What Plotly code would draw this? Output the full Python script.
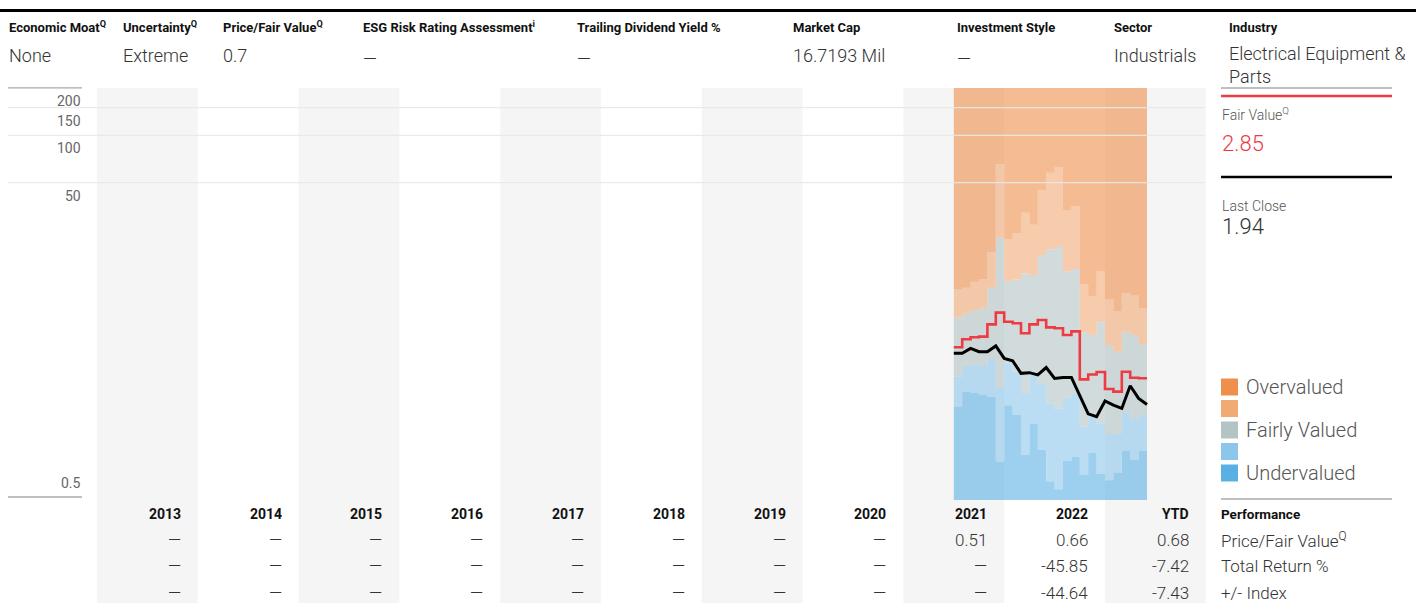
import math
import plotly.graph_objects as go

# ---------------- data ----------------
header_labels = ["Economic Moat<sup>Q</sup>", "Uncertainty<sup>Q</sup>", "Price/Fair Value<sup>Q</sup>",
                 "ESG Risk Rating Assessment<sup>i</sup>", "Trailing Dividend Yield %", "Market Cap",
                 "Investment Style", "Sector", "Industry"]
header_values = ["None", "Extreme", "0.7", "—", "—", "16.7193 Mil", "—", "Industrials",
                 "Electrical Equipment &<br>Parts"]

years = ["2013", "2014", "2015", "2016", "2017", "2018", "2019", "2020", "2021", "2022", "YTD"]
row_pfv = ["—", "—", "—", "—", "—", "—", "—", "—", "0.51", "0.66", "0.68"]
row_total_return = ["—", "—", "—", "—", "—", "—", "—", "—", "—", "-45.85", "-7.42"]
row_index = ["—", "—", "—", "—", "—", "—", "—", "—", "—", "-44.64", "-7.43"]
row_names = ["Price/Fair Value<sup>Q</sup>", "Total Return %", "+/- Index"]

y_ticks = [200, 150, 100, 50, 0.5]
grid_values = [150, 100, 50]

months = ["2021-07", "2021-08", "2021-09", "2021-10", "2021-11", "2021-12",
          "2022-01", "2022-02", "2022-03", "2022-04", "2022-05", "2022-06",
          "2022-07", "2022-08", "2022-09", "2022-10", "2022-11", "2022-12",
          "2023-01", "2023-02", "2023-03", "2023-04", "2023-05"]
end_month = "2023-06"

band_floor = 0.478
under_top = [1.88, 2.34, 2.30, 2.23, 2.17, 0.84, 1.92, 1.66, 0.925, 1.46, 1.0, 0.63,
             0.56, 0.85, 0.90, 0.69, 0.96, 0.70, 0.64, 0.71, 0.98, 0.86, 0.98]
light_under_top = [2.91, 3.41, 3.46, 3.41, 3.72, 2.47, 3.55, 3.13, 2.26, 2.99, 2.58, 1.97,
                   1.82, 2.14, 2.26, 1.40, 1.62, 1.47, 1.24, 1.27, 1.73, 1.57, 1.66]
fair_top = [6.92, 7.33, 7.74, 8.0, 10.7, 22.3, 11.8, 12.1, 13.2, 12.9, 17.3, 18.8,
            19.5, 13.6, 14.1, 5.58, 5.37, 6.52, 4.63, 4.20, 5.63, 5.37, 4.70]
light_over_top = [10.5, 10.7, 11.7, 12.2, 18.1, 65.7, 21.9, 23.9, 32.2, 27.0, 44.9, 57.8,
                  62.9, 33.5, 35.5, 11.3, 9.5, 13.7, 9.1, 7.6, 9.9, 9.6, 7.9]
over_top = [200] * 23

fair_value = [4.48, 5.04, 5.19, 5.24, 6.27, 7.45, 6.52, 6.37, 5.50, 6.27, 6.68, 6.0,
              5.92, 5.36, 5.66, 2.80, 3.01, 3.12, 2.43, 2.34, 3.13, 2.87, 2.85]
# month-boundary closing prices (start of Jul-2021 ... start of Jun-2023)
price = [4.10, 4.10, 4.41, 4.20, 4.20, 4.57, 3.81, 3.68, 3.06, 3.09, 2.99, 3.33,
         2.84, 2.88, 2.88, 2.20, 1.69, 1.62, 2.04, 1.92, 1.83, 2.55, 2.12, 1.94]

fair_value_now = "2.85"
last_close = "1.94"
legend_names = ["Overvalued", "", "Fairly Valued", "", "Undervalued"]
legend_colors = ["#EF8F4D", "#F2AA75", "#B4C3C3", "#8CC6EB", "#5BB0E3"]

# ---------------- helpers ----------------
W, H = 1416, 603
FONT = "Roboto, Liberation Sans, sans-serif"


def mx(label):
    y, m = label.split("-")
    return (int(y) - 2013) + (int(m) - 1) / 12.0


def px_x(p):
    return p / W


def px_y(p):
    return 1 - p / H


def rgba(hexc, a):
    h = hexc.lstrip("#")
    return "rgba(%d,%d,%d,%.2f)" % (int(h[0:2], 16), int(h[2:4], 16), int(h[4:6], 16), a)


def ftxt(size, color, weight=None):
    d = dict(family=FONT, size=size, color=color)
    if weight:
        d["weight"] = weight
    return d


band_x = [mx(m) for m in months] + [mx(end_month)]


def ext(v):
    return list(v) + [v[-1]]


fig = go.Figure()

# bands (stacked fills)
fig.add_trace(go.Scatter(x=band_x, y=[band_floor] * len(band_x), mode="lines",
                         line=dict(width=0, shape="hv"), showlegend=False, hoverinfo="skip"))
band_specs = [(under_top, legend_colors[4]), (light_under_top, legend_colors[3]),
              (fair_top, legend_colors[2]), (light_over_top, legend_colors[1]),
              (over_top, legend_colors[0])]
for vals, col in band_specs:
    fig.add_trace(go.Scatter(x=band_x, y=ext(vals), mode="lines", fill="tonexty",
                             fillcolor=rgba(col, 0.6), line=dict(width=0, shape="hv"),
                             showlegend=False, hoverinfo="skip"))

# fair value (step) and price
fig.add_trace(go.Scatter(x=band_x, y=ext(fair_value), mode="lines",
                         line=dict(color="#EE3A43", width=2.6, shape="hv"), showlegend=False))
price_x = [mx(m) for m in months] + [mx(end_month)]
fig.add_trace(go.Scatter(x=price_x, y=price, mode="lines",
                         line=dict(color="#000000", width=3), showlegend=False))

shapes = []
annotations = []

# alternating grey columns
for i in range(0, len(years), 2):
    shapes.append(dict(type="rect", xref="x", yref="paper", x0=i, x1=i + 1,
                       y0=0, y1=px_y(88), fillcolor="#F5F5F5", line=dict(width=0), layer="below"))

# grid lines (shape coordinates on the log axis are given in data values)
for g in grid_values:
    shapes.append(dict(type="line", xref="paper", yref="y", x0=px_x(8), x1=px_x(1205),
                       y0=g, y1=g, line=dict(color="rgba(232,232,232,0.9)", width=1.3), layer="above"))
for v in (y_ticks[0], y_ticks[-1]):
    shapes.append(dict(type="line", xref="paper", yref="y", x0=px_x(8), x1=px_x(82),
                       y0=v, y1=v, line=dict(color="#AAAAAA", width=1.3)))

# y tick labels
for v in y_ticks:
    if v == y_ticks[-1]:
        annotations.append(dict(xref="paper", yref="y", x=px_x(83), y=math.log10(v), text=str(v),
                                xanchor="right", yanchor="bottom", yshift=4, showarrow=False,
                                font=ftxt(14, "#666666")))
    else:
        annotations.append(dict(xref="paper", yref="y", x=px_x(83), y=math.log10(v), text=str(v),
                                xanchor="right", yanchor="top", yshift=-3, showarrow=False,
                                font=ftxt(14, "#666666")))

# top black rule
shapes.append(dict(type="line", xref="paper", yref="paper", x0=0, x1=1, y0=px_y(10.5), y1=px_y(10.5),
                   line=dict(color="#000000", width=3)))

# header
header_x = [8, 122, 222, 362, 576, 792, 956, 1113, 1228]
for hx, lab, val in zip(header_x, header_labels, header_values):
    annotations.append(dict(xref="paper", yref="paper", x=px_x(hx - 1), y=px_y(27), text="<b>" + lab + "</b>",
                            xanchor="left", yanchor="middle", showarrow=False,
                            font=ftxt(13, "#111111")))
    if "<br>" in val:
        annotations.append(dict(xref="paper", yref="paper", x=px_x(hx - 1), y=px_y(65), text=val,
                                xanchor="left", yanchor="middle", showarrow=False, align="left",
                                font=ftxt(18, "#333333", 300)))
    else:
        vy = 55 if val != "—" else 58
        annotations.append(dict(xref="paper", yref="paper", x=px_x(hx - 1), y=px_y(vy), text=val,
                                xanchor="left", yanchor="middle", showarrow=False,
                                font=ftxt(18, "#333333", 300)))

# right panel
shapes.append(dict(type="line", xref="paper", yref="paper", x0=px_x(1221), x1=px_x(1392),
                   y0=px_y(88), y1=px_y(88), line=dict(color="#AAAAAA", width=1.3)))
shapes.append(dict(type="line", xref="paper", yref="paper", x0=px_x(1221), x1=px_x(1392),
                   y0=px_y(96), y1=px_y(96), line=dict(color="#EE3A43", width=2.5)))
shapes.append(dict(type="line", xref="paper", yref="paper", x0=px_x(1221), x1=px_x(1392),
                   y0=px_y(177), y1=px_y(177), line=dict(color="#000000", width=2.5)))
shapes.append(dict(type="line", xref="paper", yref="paper", x0=px_x(1221), x1=px_x(1392),
                   y0=px_y(499), y1=px_y(499), line=dict(color="#AAAAAA", width=1.3)))
annotations.append(dict(xref="paper", yref="paper", x=px_x(1220), y=px_y(114), text="Fair Value<sup>Q</sup>",
                        xanchor="left", yanchor="middle", showarrow=False, font=ftxt(14, "#555555", 300)))
annotations.append(dict(xref="paper", yref="paper", x=px_x(1220), y=px_y(143), text=fair_value_now,
                        xanchor="left", yanchor="middle", showarrow=False, font=ftxt(22, "#EE3A43", 300)))
annotations.append(dict(xref="paper", yref="paper", x=px_x(1220), y=px_y(206), text="Last Close",
                        xanchor="left", yanchor="middle", showarrow=False, font=ftxt(14, "#555555", 300)))
annotations.append(dict(xref="paper", yref="paper", x=px_x(1220), y=px_y(227), text=last_close,
                        xanchor="left", yanchor="middle", showarrow=False, font=ftxt(22, "#333333", 300)))
for k, (name, col) in enumerate(zip(legend_names, legend_colors)):
    cy = 387 + k * 21.5
    shapes.append(dict(type="rect", xref="paper", yref="paper", x0=px_x(1221), x1=px_x(1238),
                       y0=px_y(cy + 8.5), y1=px_y(cy - 8.5), fillcolor=col, line=dict(width=0)))
    if name:
        annotations.append(dict(xref="paper", yref="paper", x=px_x(1244), y=px_y(cy), text=name,
                                xanchor="left", yanchor="middle", showarrow=False,
                                font=ftxt(20, "#555555", 300)))

# bottom table
table_rows_y = [540, 566, 593]
for i, yr in enumerate(years):
    annotations.append(dict(xref="x", yref="paper", x=i + 1, xshift=-15, y=px_y(514), text="<b>" + yr + "</b>",
                            xanchor="right", yanchor="middle", showarrow=False, font=ftxt(14, "#111111")))
    for row, ry in zip((row_pfv, row_total_return, row_index), table_rows_y):
        annotations.append(dict(xref="x", yref="paper", x=i + 1, xshift=-15, y=px_y(ry), text=row[i],
                                xanchor="right", yanchor="middle", showarrow=False,
                                font=ftxt(17, "#333333", 300)))
annotations.append(dict(xref="paper", yref="paper", x=px_x(1219), y=px_y(514), text="<b>Performance</b>",
                        xanchor="left", yanchor="middle", showarrow=False, font=ftxt(13.5, "#111111")))
for name, ry in zip(row_names, table_rows_y):
    annotations.append(dict(xref="paper", yref="paper", x=px_x(1219), y=px_y(ry), text=name,
                            xanchor="left", yanchor="middle", showarrow=False, font=ftxt(17, "#333333", 300)))

# axes mapping: column i spans [i, i+1]; left edge of 2013 at 97px, 100.8px per column
col_w = 100.8
x0px = 97
dec = 157.2
y05 = 497
fig.update_layout(
    width=W, height=H, margin=dict(l=0, r=0, t=0, b=0),
    paper_bgcolor="white", plot_bgcolor="rgba(0,0,0,0)",
    xaxis=dict(range=[-x0px / col_w, (W - x0px) / col_w], visible=False, fixedrange=True),
    yaxis=dict(type="log", range=[math.log10(0.5) - (H - y05) / dec, math.log10(0.5) + y05 / dec],
               visible=False, fixedrange=True),
    shapes=shapes, annotations=annotations, showlegend=False,
    font=dict(family=FONT),
)

fig.write_html("out.html", post_script="document.body.style.margin='0';", config={"displayModeBar": False})
